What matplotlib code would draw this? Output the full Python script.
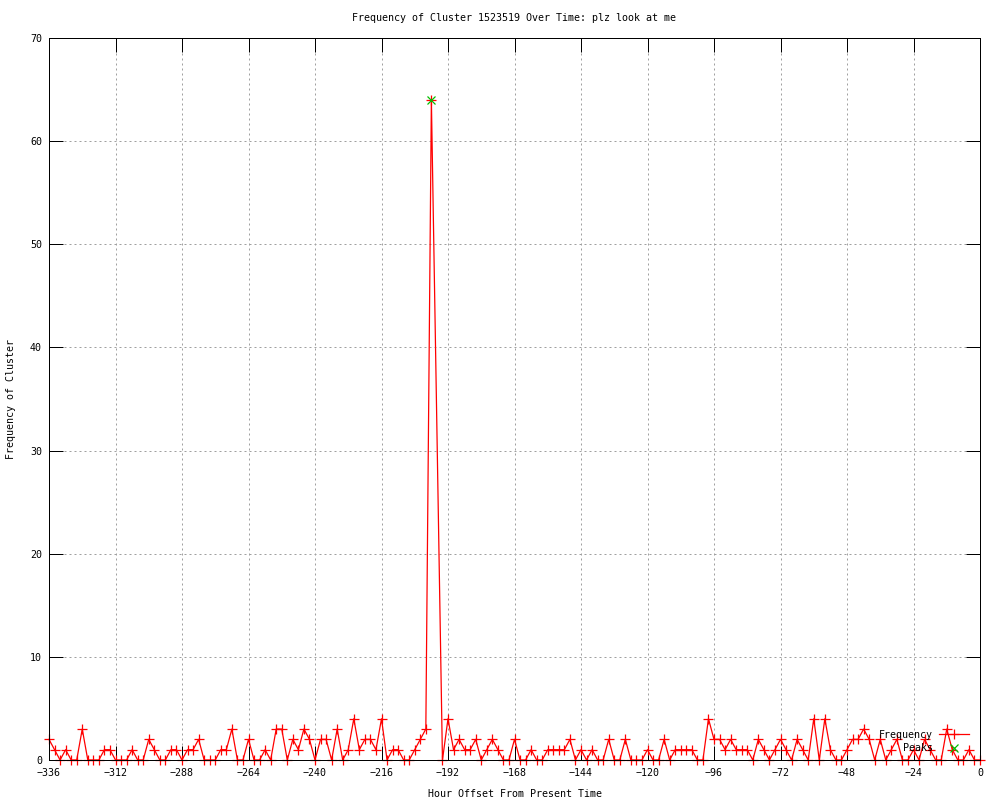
import matplotlib
matplotlib.use('Agg')
import matplotlib.pyplot as plt
import numpy as np

# hour offsets, one sample every 2 hours
hours = np.arange(-336, 1, 2)

# cluster frequency per sample (None = no sample at that hour)
freq = [
    2, 1, 0, 1, 0, 0, 3, 0, 0, 0, 1, 1,
    0, 0, 0, 1, 0, 0, 2, 1, 0, 0, 1, 1,
    0, 1, 1, 2, 0, 0, 0, 1, 1, 3, 0, 0,
    2, 0, 0, 1, 0, 3, 3, 0, 2, 1, 3, 2,
    0, 2, 2, 0, 3, 0, 1, 4, 1, 2, 2, 1,
    4, 0, 1, 1, 0, 0, 1, 2, 3, 64, None, 0,
    4, 1, 2, 1, 1, 2, 0, 1, 2, 1, 0, 0,
    2, 0, 0, 1, 0, 0, 1, 1, 1, 1, 2, 0,
    1, 0, 1, 0, 0, 2, 0, 0, 2, 0, 0, 0,
    1, 0, 0, 2, 0, 1, 1, 1, 1, 0, 0, 4,
    2, 2, 1, 2, 1, 1, 1, 0, 2, 1, 0, 1,
    2, 1, 0, 2, 1, 0, 4, 0, 4, 1, 0, 0,
    1, 2, 2, 3, 2, 0, 2, 0, 1, 2, 0, 0,
    1, 0, 2, 1, 0, 0, 3, 1, 0, 0, 1, 0,
    0,
]

peak_hours = [-198]
peak_freq = [64]

valid = np.array([f is not None for f in freq])
x = hours[valid]
y = np.array([f for f in freq if f is not None])

plt.rcParams['font.family'] = ['DejaVu Sans Mono', 'DejaVu Sans']
plt.rcParams['font.size'] = 7.2

fig = plt.figure(figsize=(10, 8), dpi=100)
ax = fig.add_axes([0.049, 0.05, 0.931, 0.9025])

ax.plot(x, y, color='#ff0000', lw=0.9, marker='+', ms=7, mew=0.9,
        label='Frequency', clip_on=False)
# padded so the label right-aligns with "Frequency" (monospace font)
ax.plot(peak_hours, peak_freq, ls='none', marker='x', color='#00c000',
        ms=5.5, mew=0.9, label='    Peaks')

ax.set_xlim(-336, 0)
ax.set_ylim(0, 70)
ax.set_xticks(np.arange(-336, 1, 24))
ax.set_yticks(np.arange(0, 71, 10))

ax.set_axisbelow(True)
ax.grid(True, color='#a0a0a0', lw=0.72, ls=(0, (2, 3)))
ax.tick_params(direction='in', length=10, width=0.72, top=True, right=True)
ax.tick_params(axis='x', pad=6)
ax.tick_params(axis='y', pad=5)
for s in ax.spines.values():
    s.set_linewidth(0.72)
    s.set_color('black')

ax.set_title('Frequency of Cluster 1523519 Over Time: plz look at me',
             fontsize=7.2, pad=12)
ax.set_xlabel('Hour Offset From Present Time', labelpad=8)
ax.set_ylabel('Frequency of Cluster', labelpad=10)

ax.legend(loc='lower right', bbox_to_anchor=(0.996, 0.0), frameon=False,
          markerfirst=False, handlelength=3, borderpad=0.2, labelspacing=0.35,
          handletextpad=0.6)

fig.savefig('out.png', dpi=100)
